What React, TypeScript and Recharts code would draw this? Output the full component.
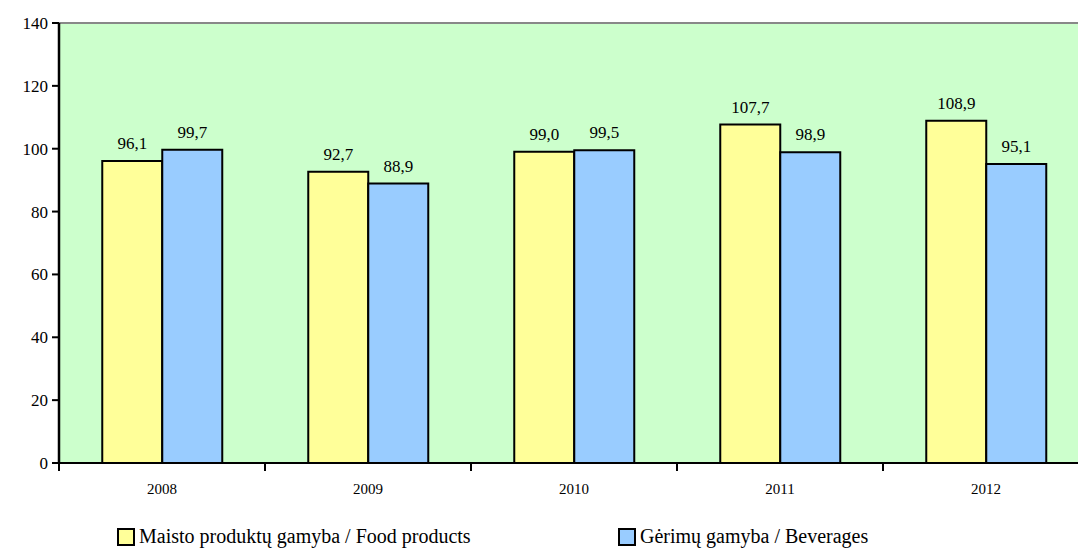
import { Bar, BarChart, CartesianGrid, LabelList, ReferenceLine, XAxis, YAxis } from "recharts"

const years = ["2008", "2009", "2010", "2011", "2012"]
const food = [96.1, 92.7, 99.0, 107.7, 108.9]
const beverages = [99.7, 88.9, 99.5, 98.9, 95.1]
const yTicks = [0, 20, 40, 60, 80, 100, 120, 140]

const series = [
  { key: "food", name: "Maisto produktų gamyba / Food products", color: "#FFFF99" },
  { key: "beverages", name: "Gėrimų gamyba / Beverages", color: "#99CCFF" },
]

const data = years.map((year, i) => ({ year, food: food[i], beverages: beverages[i] }))

const FONT = "Liberation Serif"
const CHART_W = 1100
const MARGIN = { top: 23, right: 11, left: 10, bottom: 0 }
const X_AXIS_H = 88
const Y_AXIS_W = 49
const CAT_W = (CHART_W - MARGIN.left - MARGIN.right - Y_AXIS_W) / years.length

const fmt = (v: number) => v.toFixed(1).replace(".", ",")

function YearTick({ x, y, payload }: any) {
  const left = x - CAT_W / 2
  return (
    <g>
      <line x1={left} y1={y - 8} x2={left} y2={y} stroke="#000" strokeWidth={2} />
      <text x={x} y={y + 23} textAnchor="middle" fontSize={15} fontFamily={FONT} fill="#000">
        {payload.value}
      </text>
    </g>
  )
}

function YTick({ x, y, payload }: any) {
  return (
    <text x={x} y={y + 6} textAnchor="end" fontSize={17} fontFamily={FONT} fill="#000">
      {payload.value}
    </text>
  )
}

function ValueLabel({ x, y, width, value }: any) {
  return (
    <text x={x + width / 2} y={y - 12} textAnchor="middle" fontSize={17} fontFamily={FONT} fill="#000">
      {fmt(Number(value))}
    </text>
  )
}

export default function App() {
  return (
    <div style={{ position: "absolute", left: 0, top: 0, width: 1078, height: 551, overflow: "hidden", background: "#fff", fontFamily: FONT }}>
      <BarChart
        width={CHART_W}
        height={551}
        data={data}
        margin={MARGIN}
        barCategoryGap="21%"
        barGap={0}
      >
        <CartesianGrid horizontal={false} vertical={false} fill="#CCFFCC" />
        <ReferenceLine y={140} stroke="#888" strokeWidth={2} />
        <XAxis
          dataKey="year"
          axisLine={{ stroke: "#000", strokeWidth: 2 }}
          tickLine={false}
          tick={<YearTick />}
          height={X_AXIS_H}
          interval={0}
        />
        <YAxis
          domain={[0, 140]}
          ticks={yTicks}
          width={Y_AXIS_W}
          axisLine={{ stroke: "#000", strokeWidth: 2.5 }}
          tickLine={{ stroke: "#000", strokeWidth: 2 }}
          tickSize={7}
          tickMargin={4}
          tick={<YTick />}
        />
        {series.map((s) => (
          <Bar
            key={s.key}
            dataKey={s.key}
            name={s.name}
            fill={s.color}
            stroke="#000"
            strokeWidth={2}
            isAnimationActive={false}
          >
            <LabelList dataKey={s.key} content={<ValueLabel />} />
          </Bar>
        ))}
      </BarChart>
      <div style={{ position: "absolute", top: 525, left: 0, width: 1078, fontSize: 20, color: "#000" }}>
        {series.map((s, i) => (
          <div
            key={s.key}
            style={{ position: "absolute", left: i === 0 ? 117 : 618, display: "flex", alignItems: "center", whiteSpace: "nowrap" }}
          >
            <span
              style={{
                display: "inline-block",
                width: 14,
                height: 14,
                background: s.color,
                border: "2px solid #000",
                marginRight: 4,
              }}
            />
            {s.name}
          </div>
        ))}
      </div>
    </div>
  )
}
